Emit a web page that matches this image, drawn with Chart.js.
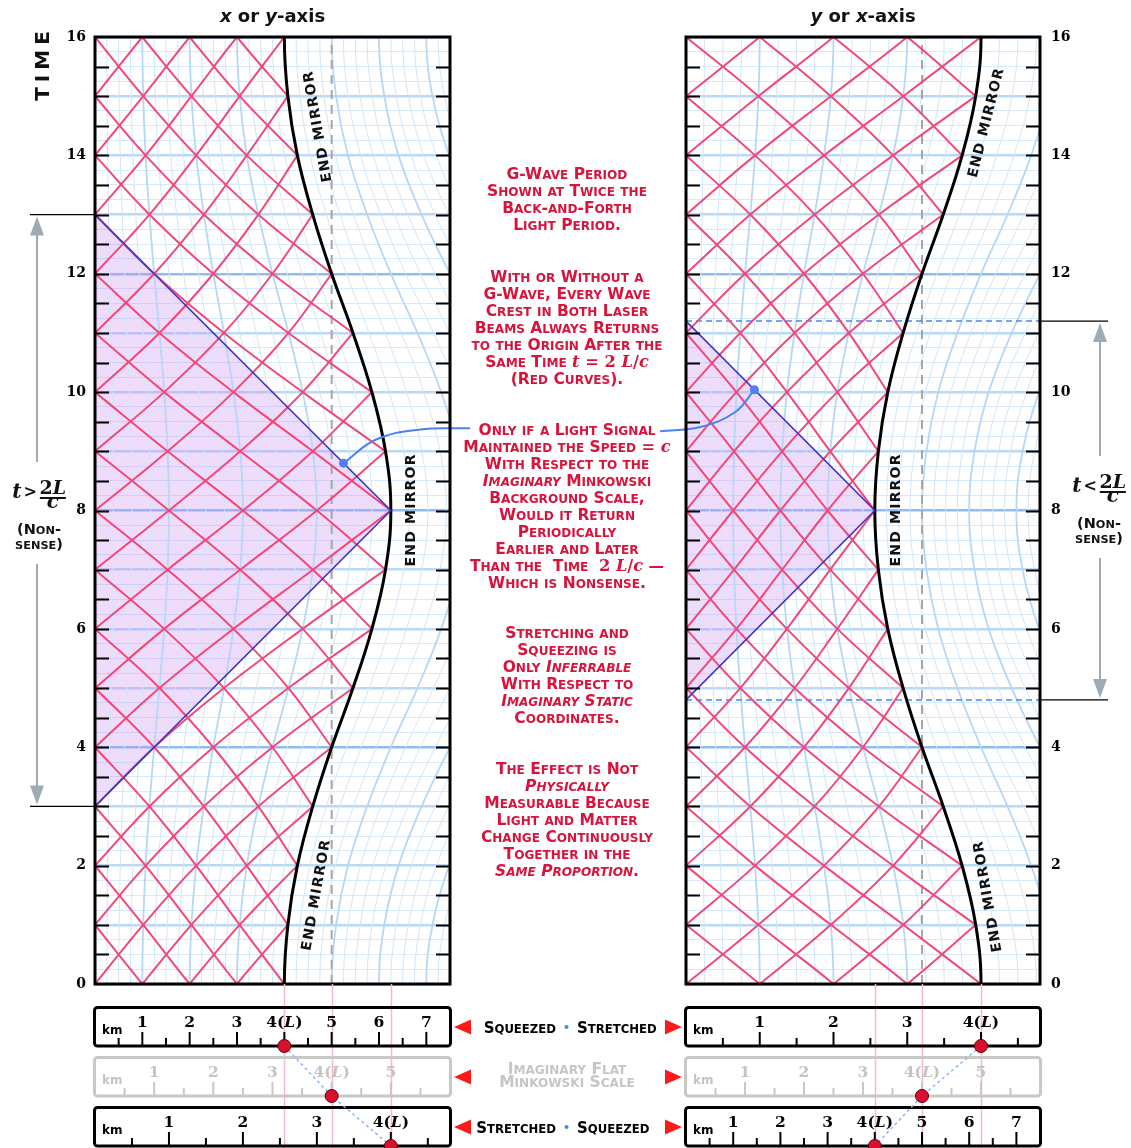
<!DOCTYPE html>
<html>
<head>
<meta charset="utf-8">
<script src="https://cdn.jsdelivr.net/npm/chart.js@4/dist/chart.umd.min.js"></script>
<style>
  html, body { margin: 0; padding: 0; background: #fff; }
  #wrap { position: relative; width: 1131px; height: 1148px; overflow: hidden; }
  #wrap canvas { position: absolute; left: 0; top: 0; }
</style>
</head>
<body>
<div id="wrap">
  <canvas id="leftPanel" width="1131" height="1148"></canvas>
  <canvas id="rightPanel" width="1131" height="1148"></canvas>
</div>
<script>
// ---- data -------------------------------------------------------------
const timeLabels = [0, 2, 4, 6, 8, 10, 12, 14, 16];
// end-mirror position (flat km) at each whole time step t = 0 .. 16
const mirrorLeft  = [3.20, 3.26, 3.42, 3.68, 4.00, 4.36, 4.68, 4.91, 5.00, 4.91, 4.68, 4.36, 4.00, 3.68, 3.42, 3.26, 3.20];
const mirrorRight = [5.00, 4.91, 4.68, 4.36, 4.00, 3.68, 3.42, 3.26, 3.20, 3.26, 3.42, 3.68, 4.00, 4.36, 4.68, 4.91, 5.00];
const restKm = 4;                       // L
// light signal at constant speed c on the flat scale: [x, t] corners
const signalLeft  = [[0, 3], [5, 8], [0, 13]];
const signalRight = [[0, 4.8], [3.2, 8], [0, 11.2]];
const markerLeft  = [4.2, 8.8];
const markerRight = [1.16, 10.04];
const leaderLeft  = [[4.2, 8.8], [4.75, 9.2], [5.5, 9.37], [6.34, 9.39]];
const leaderRight = [[1.16, 10.04], [0.83, 9.66], [0.24, 9.41], [-0.44, 9.34]];
// flat units per km on the three rulers under each panel
const rulerFactorsLeft  = [0.8, 1, 1.25];
const rulerFactorsRight = [1.25, 1, 0.8];
const rulerKm = [1, 2, 3, 4, 5, 6, 7];

const SANS = '"DejaVu Sans", sans-serif';
const SERIF = '"DejaVu Serif", serif';
const NOTE_RED = '#d8133c';
const RAY = '#f24878';

const notes = [
  { y: 173, lines: ['G-Wave Period', 'Shown at Twice the', 'Back-and-Forth', 'Light Period.'] },
  { y: 276, lines: ['With or Without a', 'G-Wave, Every Wave', 'Crest in Both Laser', 'Beams Always Returns',
                    'to the Origin After the', 'Same Time {t = 2 L/c}', '(Red Curves).'] },
  { y: 429, lines: ['Only if a Light Signal', 'Maintained the Speed {= c}', 'With Respect to the',
                    '_Imaginary_ Minkowski', 'Background Scale,', 'Would it Return', 'Periodically',
                    'Earlier and Later', 'Than the  Time  {2 L/c} \u2014', 'Which is Nonsense.'] },
  { y: 632, lines: ['Stretching and', 'Squeezing is', 'Only _Inferrable_', 'With Respect to',
                    '_Imaginary Static_', 'Coordinates.'] },
  { y: 768, lines: ['The Effect is Not', '_Physically_', 'Measurable Because', 'Light and Matter',
                    'Change Continuously', 'Together in the', '_Same Proportion_.'] }
];

const panels = {
  left: {
    side: 'left', mirror: mirrorLeft, signal: signalLeft, marker: markerLeft, leader: leaderLeft,
    rulers: rulerFactorsLeft, dashedSignal: false, ineq: '>',
    title: [['x', true], [' or ', false], ['y', true], ['-axis', false]],
    mirrorLabels: [[3.75, 14.48, -100], [5.32, 8.0, -90], [3.72, 1.5, -80]]
  },
  right: {
    side: 'right', mirror: mirrorRight, signal: signalRight, marker: markerRight, leader: leaderRight,
    rulers: rulerFactorsRight, dashedSignal: true, ineq: '<',
    title: [['y', true], [' or ', false], ['x', true], ['-axis', false]],
    mirrorLabels: [[5.07, 14.55, -76], [3.54, 8.0, -90], [5.1, 1.47, -100]]
  }
};

// ---- text helpers ------------------------------------------------------
function scRuns(text, size, italic, family, color) {
  const runs = [];
  for (const ch of text) {
    const low = /[a-z]/.test(ch);
    const s = low ? size * 0.78 : size;
    const font = (italic ? 'italic ' : '') + 'bold ' + s.toFixed(2) + 'px ' + family;
    const c = low ? ch.toUpperCase() : ch;
    const last = runs[runs.length - 1];
    if (last && last.font === font) last.text += c;
    else runs.push({ text: c, font, color });
  }
  return runs;
}
function mathRuns(text, size, color) {
  const runs = [];
  for (const ch of text) {
    const font = (/[A-Za-z]/.test(ch) ? 'italic ' : '') + 'bold ' + size + 'px ' + SERIF;
    const last = runs[runs.length - 1];
    if (last && last.font === font) last.text += ch;
    else runs.push({ text: ch, font, color });
  }
  return runs;
}
function richRuns(line, size, color) {
  const parts = line.split(/(_[^_]+_|\{[^}]+\})/).filter(p => p.length);
  let runs = [];
  for (const p of parts) {
    if (p[0] === '_') runs = runs.concat(scRuns(p.slice(1, -1), size, true, SANS, color));
    else if (p[0] === '{') runs = runs.concat(mathRuns(p.slice(1, -1), size * 1.05, color));
    else runs = runs.concat(scRuns(p, size, false, SANS, color));
  }
  return runs;
}
function drawRuns(ctx, runs, x, y, align) {
  let w = 0;
  for (const r of runs) { ctx.font = r.font; r.w = ctx.measureText(r.text).width; w += r.w; }
  let cx = align === 'center' ? x - w / 2 : (align === 'right' ? x - w : x);
  ctx.textAlign = 'left';
  ctx.textBaseline = 'alphabetic';
  for (const r of runs) {
    ctx.font = r.font; ctx.fillStyle = r.color;
    ctx.fillText(r.text, cx, y);
    cx += r.w;
  }
  return w;
}
function spacedText(ctx, text, cx, cy, angleDeg, size, gap, color) {
  ctx.save();
  ctx.translate(cx, cy);
  ctx.rotate(angleDeg * Math.PI / 180);
  ctx.font = 'bold ' + size + 'px ' + SANS;
  ctx.fillStyle = color;
  ctx.textAlign = 'left';
  ctx.textBaseline = 'alphabetic';
  const chars = [...text];
  const ws = chars.map(c => ctx.measureText(c).width);
  const total = ws.reduce((a, b) => a + b, 0) + gap * (chars.length - 1);
  let x = -total / 2;
  chars.forEach((c, i) => { ctx.fillText(c, x, size * 0.36); x += ws[i] + gap; });
  ctx.restore();
}
function triangle(ctx, x, y, dir, color) {
  // dir -1: points left (tip at x), +1: points right (tip at x)
  ctx.beginPath();
  ctx.moveTo(x, y);
  ctx.lineTo(x - dir * 17, y - 7.5);
  ctx.lineTo(x - dir * 17, y + 7.5);
  ctx.closePath();
  ctx.fillStyle = color;
  ctx.fill();
}
function isInt(v) { return Math.abs(v - Math.round(v)) < 1e-6; }

// ---- datasets ----------------------------------------------------------
function panelDatasets(P) {
  const f = t => P.mirror[((t % 16) + 16) % 16] / restKm;
  const pt = ([x, y]) => ({ x, y });
  const ds = [];
  ds.push({ data: P.signal.map(pt), fill: 'shape', backgroundColor: 'rgba(201,140,242,0.30)',
            borderWidth: 0, borderColor: 'rgba(0,0,0,0)', order: 9 });
  // curved background coordinate lines, one per quarter km
  for (let q = 1; q <= 30; q++) {
    if (q === 16) continue;
    const xi = q / 4, pts = [];
    for (let t = -1; t <= 17; t++) pts.push({ x: xi * f(t), y: t });
    const major = q % 4 === 0;
    ds.push({ data: pts, borderColor: major ? '#b6d7f6' : '#d0e6fa', borderWidth: major ? 1.8 : 1,
              tension: 0.4, order: 8 });
  }
  ds.push({ data: [{ x: restKm, y: 0 }, { x: restKm, y: 16 }], borderColor: '#a6a6a6', borderWidth: 2,
            borderDash: [9, 6], order: 7 });
  if (P.dashedSignal) {
    for (const t of [P.signal[0][1], P.signal[2][1]]) {
      ds.push({ data: [{ x: 0, y: t }, { x: 6, y: t }], borderColor: '#4f85f0', borderWidth: 1.5,
                borderDash: [6, 4], order: 6 });
    }
  }
  // wave crests: out to the mirror in 4 time units and back in 4
  for (let k = -7; k <= 15; k++) {
    if (k + 4 > 0 && k < 16) {
      const up = [];
      for (let j = 0; j <= 4; j++) up.push({ x: f(k + j) * j, y: k + j });
      ds.push({ data: up, borderColor: RAY, borderWidth: 2, tension: 0.4, order: 5 });
    }
    if (k + 8 > 0 && k + 4 < 16) {
      const down = [];
      for (let j = 4; j <= 8; j++) down.push({ x: f(k + j) * (8 - j), y: k + j });
      ds.push({ data: down, borderColor: RAY, borderWidth: 2, tension: 0.4, order: 5 });
    }
  }
  const mirrorPts = [];
  for (let t = -1; t <= 17; t++) mirrorPts.push({ x: f(t) * restKm, y: t });
  ds.push({ data: mirrorPts, borderColor: '#000', borderWidth: 3, tension: 0.4, order: 4 });
  ds.push({ data: P.signal.map(pt), borderColor: '#4331c9', borderWidth: 1.6, order: 3 });
  ds.push({ data: P.leader.map(pt), borderColor: '#4d80f2', borderWidth: 2, tension: 0.4, clip: false, order: 2 });
  ds.push({ data: [pt(P.marker)], showLine: false, pointRadius: 4.5, pointBackgroundColor: '#4d80f2',
            pointBorderWidth: 0, order: 1 });
  return ds;
}

// ---- decorations drawn from the panel scales ---------------------------
function drawRulers(chart, P) {
  const { ctx, chartArea: a, scales: { x } } = chart;
  const f = t => P.mirror[((t % 16) + 16) % 16];
  ctx.save();
  // guide lines from the panel down through the rulers
  ctx.strokeStyle = '#f8b6ca';
  ctx.lineWidth = 1.5;
  for (const v of [f(0), restKm, f(8)]) {
    const px = Math.round(x.getPixelForValue(v)) + 0.5;
    ctx.beginPath(); ctx.moveTo(px, a.bottom); ctx.lineTo(px, 1148); ctx.stroke();
  }
  const tops = [1006, 1056, 1106];
  const dots = [];
  P.rulers.forEach((k, r) => {
    const top = tops[r], bot = top + 40;
    const gray = r === 1;
    const ink = gray ? '#c4c4c0' : '#000';
    ctx.strokeStyle = gray ? '#c8c8c4' : '#000';
    ctx.lineWidth = 3;
    ctx.beginPath();
    ctx.roundRect(a.left - 0.5, top + 1.5, a.right - a.left + 1, 38.5, 3);
    ctx.stroke();
    ctx.lineWidth = 2;
    for (let i = 1; i < 40; i++) {
      const km = i / 2;
      if (km * k > 6 - 0.12) break;
      const px = x.getPixelForValue(km * k);
      const len = i % 2 === 0 ? 14 : 8;
      ctx.beginPath(); ctx.moveTo(px, bot); ctx.lineTo(px, bot - len); ctx.stroke();
    }
    for (const km of rulerKm) {
      if (km * k > 6 - 0.2) continue;
      const px = x.getPixelForValue(km * k);
      const runs = km === restKm
        ? [{ text: '4(', font: 'bold 15.5px ' + SERIF, color: ink },
           { text: 'L', font: 'italic bold 15.5px ' + SERIF, color: ink },
           { text: ')', font: 'bold 15.5px ' + SERIF, color: ink }]
        : [{ text: String(km), font: 'bold 15.5px ' + SERIF, color: ink }];
      drawRuns(ctx, runs, px, top + 21, 'center');
    }
    ctx.font = 'bold 12px ' + SANS;
    ctx.fillStyle = ink;
    ctx.textAlign = 'left';
    ctx.fillText('km', a.left + 7, top + 28);
    dots.push([x.getPixelForValue(restKm * k), bot]);
  });
  ctx.strokeStyle = '#82baf6';
  ctx.lineWidth = 1.5;
  ctx.setLineDash([3, 3]);
  ctx.beginPath();
  dots.forEach(([px, py], i) => (i ? ctx.lineTo(px, py) : ctx.moveTo(px, py)));
  ctx.stroke();
  ctx.setLineDash([]);
  for (const [px, py] of dots) {
    ctx.beginPath(); ctx.arc(px, py, 6.5, 0, Math.PI * 2);
    ctx.fillStyle = '#d8102e'; ctx.fill();
    ctx.lineWidth = 1; ctx.strokeStyle = '#5a0010'; ctx.stroke();
  }
  ctx.restore();
}

function drawIneq(ctx, cx, bar, sym) {
  const tRun = [{ text: 't', font: 'italic bold 20px ' + SERIF, color: '#111' }];
  const sRun = [{ text: sym, font: 'bold 16px ' + SERIF, color: '#111' }];
  ctx.font = 'italic bold 20px ' + SERIF; const wt = ctx.measureText('t').width;
  ctx.font = 'bold 16px ' + SERIF; const ws = ctx.measureText(sym).width;
  const wf = 26;
  const total = wt + 2 + ws + 3 + wf;
  let x0 = cx - total / 2;
  drawRuns(ctx, tRun, x0, bar, 'left');
  drawRuns(ctx, sRun, x0 + wt + 2, bar - 1, 'left');
  const fc = x0 + wt + 2 + ws + 3 + wf / 2;
  drawRuns(ctx, [{ text: '2', font: 'bold 19px ' + SERIF, color: '#111' },
                 { text: 'L', font: 'italic bold 19px ' + SERIF, color: '#111' }], fc, bar - 4, 'center');
  ctx.fillStyle = '#111';
  ctx.fillRect(fc - wf / 2, bar - 1, wf, 2);
  drawRuns(ctx, [{ text: 'c', font: 'italic bold 20px ' + SERIF, color: '#111' }], fc, bar + 10, 'center');
  drawRuns(ctx, scRuns('(Non-', 14.5, false, SANS, '#111'), cx, bar + 36, 'center');
  drawRuns(ctx, scRuns('sense)', 14.5, false, SANS, '#111'), cx, bar + 51, 'center');
}

function drawArrow(ctx, x, yTop, yBot, gapTop, gapBot) {
  ctx.save();
  ctx.strokeStyle = '#9eabb5';
  ctx.fillStyle = '#9eabb5';
  ctx.lineWidth = 2;
  ctx.beginPath();
  ctx.moveTo(x, yTop + 18); ctx.lineTo(x, gapTop);
  ctx.moveTo(x, gapBot); ctx.lineTo(x, yBot - 18);
  ctx.stroke();
  ctx.beginPath(); ctx.moveTo(x, yTop + 2); ctx.lineTo(x - 7, yTop + 21); ctx.lineTo(x + 7, yTop + 21); ctx.closePath(); ctx.fill();
  ctx.beginPath(); ctx.moveTo(x, yBot - 2); ctx.lineTo(x - 7, yBot - 21); ctx.lineTo(x + 7, yBot - 21); ctx.closePath(); ctx.fill();
  ctx.restore();
}

function drawNotes(ctx) {
  const cx = 567;
  for (const block of notes) {
    block.lines.forEach((line, i) => {
      drawRuns(ctx, richRuns(line, 15.5, NOTE_RED), cx, block.y + 5.5 + i * 17, 'center');
    });
  }
  // scale captions between the rulers
  const rows = [[1027, ['Squeezed', 'Stretched']], [1127, ['Stretched', 'Squeezed']]];
  for (const [y, words] of rows) {
    triangle(ctx, 454, y, -1, '#ff1a1a');
    triangle(ctx, 682, y, 1, '#ff1a1a');
    drawRuns(ctx, scRuns(words[0], 15, false, SANS, '#000'), 556, y + 5.5, 'right');
    drawRuns(ctx, scRuns(words[1], 15, false, SANS, '#000'), 577, y + 5.5, 'left');
    ctx.beginPath(); ctx.arc(566.5, y, 2, 0, Math.PI * 2); ctx.fillStyle = '#4d80f2'; ctx.fill();
  }
  triangle(ctx, 454, 1077, -1, '#ff1a1a');
  triangle(ctx, 682, 1077, 1, '#ff1a1a');
  drawRuns(ctx, scRuns('Imaginary Flat', 15.5, false, SANS, '#c6c6c2'), 567, 1073.5, 'center');
  drawRuns(ctx, scRuns('Minkowski Scale', 15.5, false, SANS, '#c6c6c2'), 567, 1087, 'center');
}

function decorPlugin(P) {
  return {
    id: 'panelDecor',
    afterDatasetsDraw(chart) {
      const { ctx, chartArea: a, scales: { y } } = chart;
      ctx.save();
      ctx.strokeStyle = '#000';
      ctx.lineWidth = 2;
      for (let v = 0.5; v < 16; v += 0.5) {
        const py = Math.round(y.getPixelForValue(v)) + 0.5;
        ctx.beginPath();
        ctx.moveTo(a.left, py); ctx.lineTo(a.left + 14, py);
        ctx.moveTo(a.right, py); ctx.lineTo(a.right - 14, py);
        ctx.stroke();
      }
      ctx.lineWidth = 3;
      ctx.strokeRect(a.left, a.top, a.right - a.left, a.bottom - a.top);
      ctx.restore();
    },
    afterDraw(chart) {
      const { ctx, chartArea: a, scales: { x, y } } = chart;
      ctx.save();
      // panel title
      const runs = P.title.map(([t, it]) => ({ text: t, font: (it ? 'italic ' : '') + 'bold 18px ' + SANS, color: '#111' }));
      drawRuns(ctx, runs, (a.left + a.right) / 2, 22, 'center');
      // mirror labels
      for (const [lx, lt, ang] of P.mirrorLabels) {
        spacedText(ctx, 'END MIRROR', x.getPixelForValue(lx), y.getPixelForValue(lt), ang, 14, 1.2, '#111');
      }
      // bounds of the light signal and the nonsense interval
      const tA = y.getPixelForValue(P.signal[2][1]);
      const tB = y.getPixelForValue(P.signal[0][1]);
      ctx.strokeStyle = '#000';
      ctx.lineWidth = 1.3;
      const x0 = P.side === 'left' ? a.left - 65 : a.right;
      const x1 = P.side === 'left' ? a.left : a.right + 68;
      for (const py of [tA, tB]) { ctx.beginPath(); ctx.moveTo(x0, py); ctx.lineTo(x1, py); ctx.stroke(); }
      const ax = P.side === 'left' ? a.left - 58 : a.right + 60;
      const bar = P.side === 'left' ? 498 : 492;
      drawArrow(ctx, ax, tA, tB, bar - 36, bar + 66);
      drawIneq(ctx, P.side === 'left' ? 39 : 1099, bar, P.ineq);
      if (P.side === 'left') {
        spacedText(ctx, 'TIME', 42, 66, -90, 20, 5, '#111');
        drawNotes(ctx);
      }
      drawRulers(chart, P);
      ctx.restore();
    }
  };
}

function makeChart(id, P) {
  const left = P.side === 'left';
  return new Chart(document.getElementById(id), {
    type: 'line',
    data: { datasets: panelDatasets(P) },
    options: {
      responsive: false,
      animation: false,
      devicePixelRatio: 1,
      events: [],
      layout: { padding: left ? { top: 37, bottom: 164, left: 0, right: 681 }
                              : { top: 37, bottom: 164, left: 686, right: 0 } },
      elements: {
        point: { radius: 0, hoverRadius: 0 },
        line: { capBezierPoints: false, fill: false, borderCapStyle: 'butt', borderJoinStyle: 'miter' }
      },
      plugins: { legend: { display: false }, tooltip: { enabled: false }, title: { display: false } },
      scales: {
        x: { type: 'linear', min: 0, max: 6, display: false },
        y: {
          type: 'linear', min: 0, max: 16, position: P.side,
          afterFit: s => { s.width = left ? 95 : 91; },
          border: { display: false },
          grid: {
            drawTicks: false,
            color: c => {
              const v = c.tick.value;
              if (isInt(v) && Math.round(v) % 4 === 0) return '#8ebdf4';
              return isInt(v) ? '#b9d9f7' : '#d6eafb';
            },
            lineWidth: c => (isInt(c.tick.value) ? 2.5 : 1)
          },
          ticks: {
            stepSize: 0.25, autoSkip: false, padding: left ? 9 : 11, color: '#000',
            font: { family: 'DejaVu Serif', weight: 'bold', size: 14 },
            callback: v => (isInt(v) && timeLabels.includes(Math.round(v)) ? String(Math.round(v)) : '')
          }
        }
      }
    },
    plugins: [decorPlugin(P)]
  });
}

const fontsReady = Promise.all([
  document.fonts.load('bold 14px "DejaVu Sans"'),
  document.fonts.load('italic bold 14px "DejaVu Sans"'),
  document.fonts.load('bold 14px "DejaVu Serif"'),
  document.fonts.load('italic bold 14px "DejaVu Serif"')
]).catch(() => null);
fontsReady.then(() => {
  makeChart('leftPanel', panels.left);
  makeChart('rightPanel', panels.right);
});
</script>
</body>
</html>
